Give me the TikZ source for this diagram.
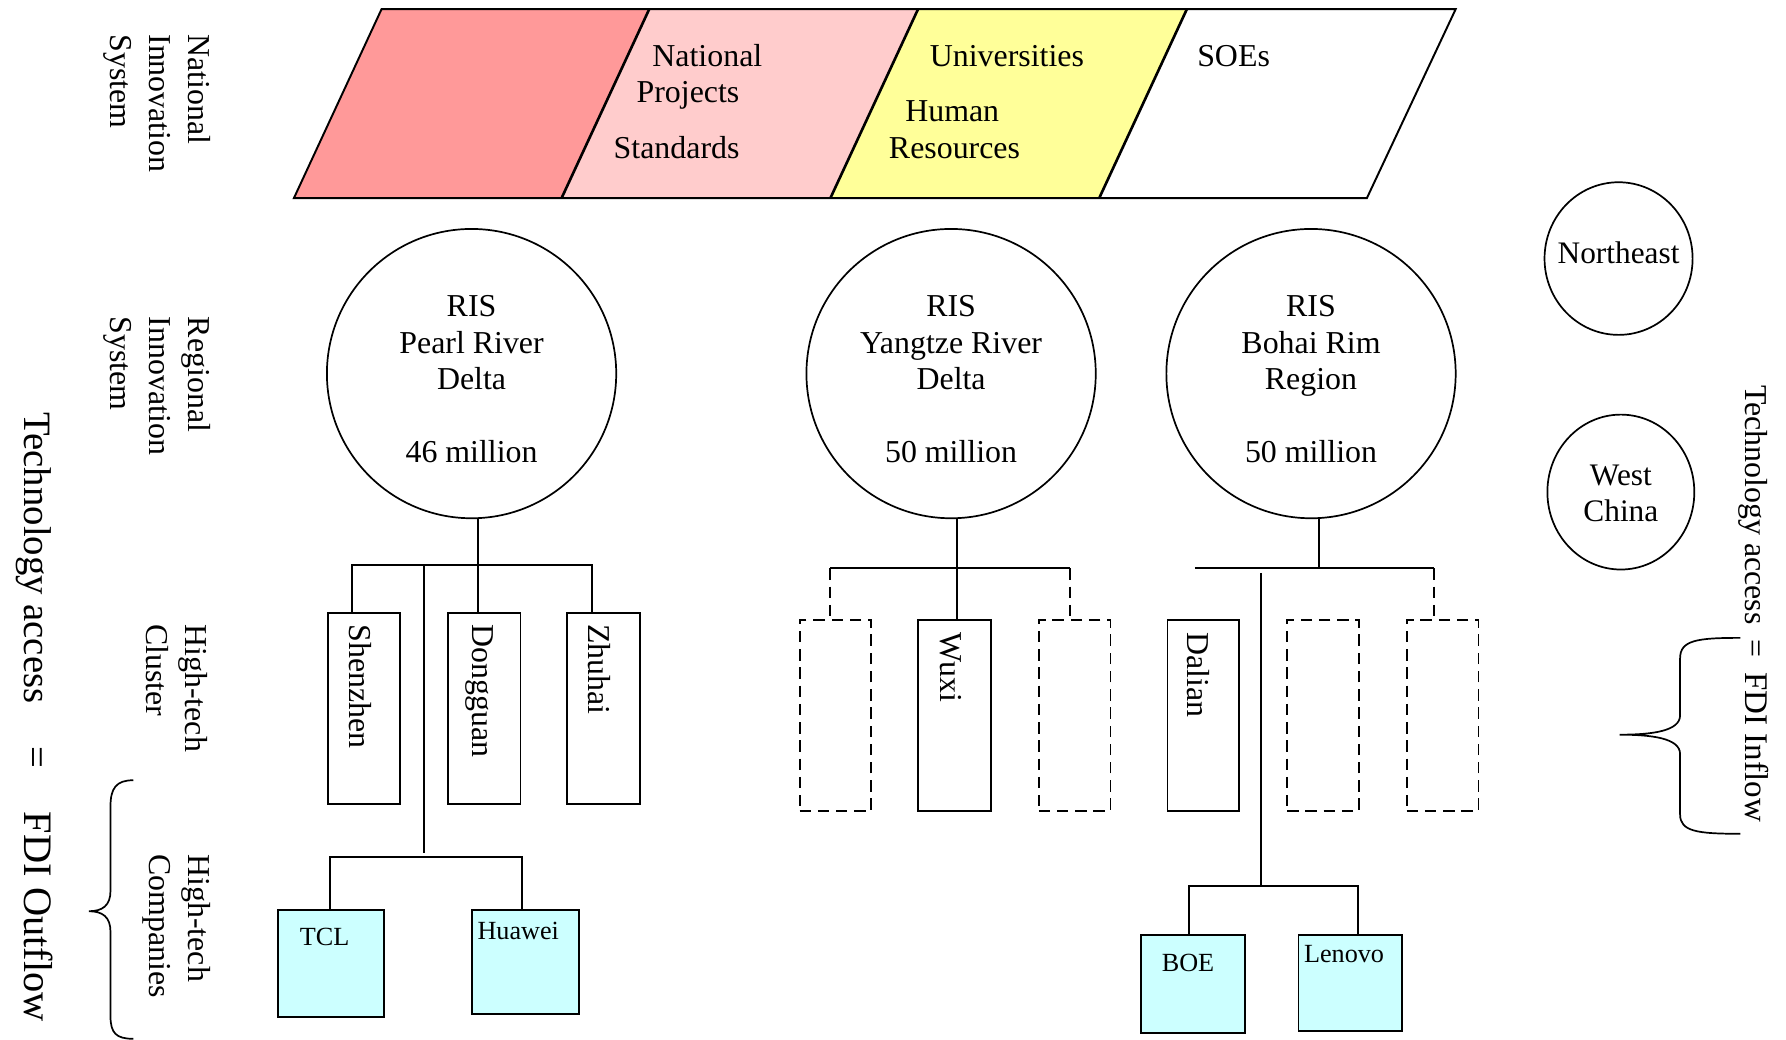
\documentclass[tikz,border=0pt]{standalone}
\usepackage{fontspec}
\setmainfont{Liberation Serif}
\usetikzlibrary{shapes.geometric}
\definecolor{pA}{RGB}{255,153,153}
\definecolor{pB}{RGB}{255,204,204}
\definecolor{pC}{RGB}{255,255,153}
\definecolor{cy}{RGB}{204,255,255}
\tikzset{
  txt/.style={inner sep=0pt, font=\fontsize{28}{32}\selectfont, align=center},
  vlab/.style={inner sep=0pt, rotate=-90, anchor=west, align=left, font=\fontsize{28}{34}\selectfont},
  boxlab/.style={inner sep=0pt, rotate=-90, anchor=west, font=\fontsize{28}{32}\selectfont},
  cbox/.style={draw, line width=1.7pt, fill=cy, rectangle, inner sep=0pt},
  clab/.style={inner sep=0pt, font=\fontsize{23}{26}\selectfont},
  sbox/.style={draw, line width=1.6pt, rectangle, inner sep=0pt, minimum height=168},
  dbox/.style={sbox, dash pattern=on 10pt off 6pt},
  ris/.style={draw, circle, line width=1.5pt, minimum size=254, inner sep=0pt},
  reg/.style={draw, ellipse, line width=1.5pt, inner sep=0pt},
  conn/.style={line width=1.7pt},
  dconn/.style={line width=1.7pt, dash pattern=on 10pt off 6pt},
  brc/.style={line width=1.5pt}
}
\begin{document}
\begin{tikzpicture}[x=1pt,y=-1pt]
\useasboundingbox (0,0) rectangle (1568,913);
% national band
\fill[pA] (335,8) -- (570,8) -- (493,174) -- (258,174) -- cycle;
\fill[pB] (570,8) -- (806,8) -- (729,174) -- (493,174) -- cycle;
\fill[pC] (806,8) -- (1042,8) -- (965,174) -- (729,174) -- cycle;
\draw[line width=1.7pt] (335,8) -- (1278,8) -- (1200,174) -- (258,174) -- cycle;
\draw[line width=2.3pt] (570,8) -- (493,174);
\draw[line width=2.3pt] (806,8) -- (729,174);
\draw[line width=2.3pt] (1042,8) -- (965,174);
\node[txt] (np) at (621,49) {National};
\node[txt] (pr) at (604,84) {Projects};
\node[txt] (st) at (594,130) {Standards};
\node[txt] (un) at (884,49) {Universities};
\node[txt] (hu) at (836,98) {Human};
\node[txt] (re) at (838,130) {Resources};
\node[txt] (so) at (1083,49) {SOEs};
% left labels
\node[vlab] (lnat) at (138,30) {National\\Innovation\\System};
\node[vlab] (lreg) at (138,278) {Regional\\Innovation\\System};
\node[vlab] (lclu) at (155,548) {High-tech\\Cluster};
\node[vlab] (lcom) at (155,750) {High-tech\\Companies};
\node[inner sep=0pt, rotate=-90, anchor=west, font=\fontsize{34}{38}\selectfont] (lout) at (30,362) {Technology access\hspace{38pt}=\hspace{38pt}{\fontsize{35.5}{38}\selectfont FDI Outflow}};
\node[inner sep=0pt, rotate=-90, anchor=west, font=\fontsize{28}{32}\selectfont] (lin) at (1540,338) {Technology access\hspace{13pt}=\hspace{13pt}{\fontsize{29}{32}\selectfont FDI Inflow}};
% braces
\draw[brc] (117,685) .. controls (102,685) and (97,692) .. (97,708) -- (97,782) .. controls (97,795) and (90,800) .. (78,800) .. controls (90,800) and (97,805) .. (97,818) -- (97,892) .. controls (97,907) and (102,912) .. (117,912);
\draw[brc] (1528,560) .. controls (1490,560) and (1475,562) .. (1475,578) -- (1475,628) .. controls (1475,642) and (1450,645) .. (1422,645) .. controls (1450,645) and (1475,648) .. (1475,662) -- (1475,715) .. controls (1475,730) and (1490,732) .. (1528,732);
% regional circles
\node[ris] (c1) at (414,328) {};
\node[ris] (c2) at (835,328) {};
\node[ris] (c3) at (1151,328) {};
\node[txt] (c1t) at (414,333) {RIS\\Pearl River\\Delta\\\mbox{}\\46 million};
\node[txt] (c2t) at (835,333) {RIS\\Yangtze River\\Delta\\\mbox{}\\50 million};
\node[txt] (c3t) at (1151,333) {RIS\\Bohai Rim\\Region\\\mbox{}\\50 million};
\node[reg, minimum width=130, minimum height=134] (ne) at (1421,227) {};
\node[txt, font=\fontsize{27.5}{32}\selectfont] (net) at (1421,222) {Northeast};
\node[reg, minimum width=129, minimum height=136] (wc) at (1423,432) {};
\node[txt, font=\fontsize{27.5}{32}\selectfont] (wct) at (1423,433) {West\\China};
% cluster boxes
\node[sbox, minimum width=63] (shen) at (319.5,622) {};
\node[sbox, minimum width=64] (dong) at (425,622) {};
\node[sbox, minimum width=64] (zhu) at (530,622) {};
\node[boxlab] (shent) at (316,548) {Shenzhen};
\node[boxlab] (dongt) at (421,548) {Dongguan};
\node[boxlab] (zhut) at (526,548) {Zhuhai};
\node[dbox, minimum width=63] (d1) at (733.5,628) {};
\node[sbox, minimum width=64] (wuxi) at (838,628) {};
\node[dbox, minimum width=63] (d2) at (943.5,628) {};
\node[boxlab] (wuxit) at (835,555) {Wuxi};
\node[sbox, minimum width=63] (dal) at (1056.5,628) {};
\node[dbox, minimum width=63] (d3) at (1161.5,628) {};
\node[dbox, minimum width=63] (d4) at (1266.5,628) {};
\node[boxlab] (dalt) at (1052,555) {Dalian};
% companies
\node[cbox, minimum width=93, minimum height=94] (tcl) at (290.5,846) {};
\node[cbox, minimum width=94, minimum height=91] (hua) at (461,844.5) {};
\node[cbox, minimum width=91, minimum height=86] (boe) at (1047.5,864) {};
\node[cbox, minimum width=91, minimum height=84] (len) at (1185.5,863) {};
\node[clab] (tclt) at (285,823) {TCL};
\node[clab] (huat) at (455,817) {Huawei};
\node[clab] (boet) at (1043,845) {BOE};
\node[clab] (lent) at (1180,838) {Lenovo};
% tree 1
\coordinate (t1L) at (309,496);
\coordinate (t1R) at (520,496);
\coordinate (t1M) at (420,496);
\coordinate (t1S) at (372,496);
\coordinate (t1D) at (372,749);
\coordinate (t1a) at (290,752);
\coordinate (t1b) at (458,752);
\draw[conn] (t1M |- c1.south) -- (t1M |- dong.north);
\draw[conn] (t1L |- shen.north) -- (t1L) -- (t1R) -- (t1R |- zhu.north);
\draw[conn] (t1S) -- (t1D);
\draw[conn] (t1a |- tcl.north) -- (t1a) -- (t1b) -- (t1b |- hua.north);
% tree 2
\coordinate (t2M) at (840,499);
\coordinate (t2L) at (729,499);
\coordinate (t2R) at (939,499);
\draw[conn] (t2M |- c2.south) -- (t2M |- wuxi.north);
\draw[conn] (t2L) -- (t2R);
\draw[dconn] (t2L) -- (t2L |- d1.north);
\draw[dconn] (t2R) -- (t2R |- d2.north);
% tree 3
\coordinate (t3M) at (1158,499);
\coordinate (t3L) at (1049,499);
\coordinate (t3R) at (1259,499);
\coordinate (t3S) at (1107,503);
\coordinate (t3D) at (1107,778);
\coordinate (t3a) at (1044,778);
\coordinate (t3b) at (1192,778);
\draw[conn] (t3M |- c3.south) -- (t3M);
\draw[conn] (t3L) -- (t3R);
\draw[dconn] (t3R) -- (t3R |- d4.north);
\draw[conn] (t3S) -- (t3D);
\draw[conn] (t3a |- boe.north) -- (t3a) -- (t3b) -- (t3b |- len.north);
\end{tikzpicture}
\end{document}
